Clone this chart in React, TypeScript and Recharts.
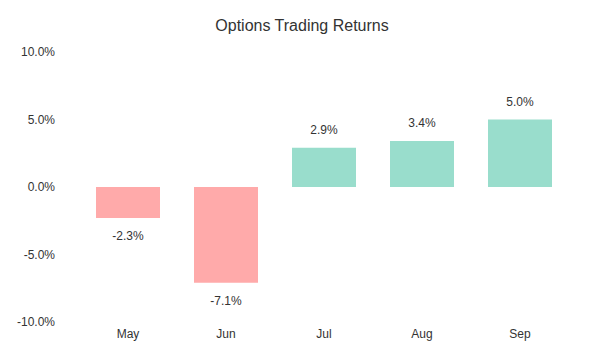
import React from 'react';
import { BarChart, Bar, XAxis, YAxis, Cell, LabelList } from 'recharts';

const months = ['May', 'Jun', 'Jul', 'Aug', 'Sep'];
const returns = [-2.3, -7.1, 2.9, 3.4, 5.0];
const yTicks = [-10, -5, 0, 5, 10];

const data = months.map((m, i) => ({ month: m, value: returns[i] }));

const FONT = '"Liberation Sans", Arial, Helvetica, sans-serif';

const renderLabel = (props: any) => {
  const { x, y, width, height, value } = props;
  const top = Math.min(y, y + height);
  const bottom = Math.max(y, y + height);
  const cx = x + width / 2;
  const cy = value >= 0 ? top - 18 : bottom + 18;
  return (
    <text x={cx} y={cy} textAnchor="middle" dominantBaseline="central" fill="#333" fontSize={12} fontFamily={FONT}>
      {`${Number(value).toFixed(1)}%`}
    </text>
  );
};

export default function App() {
  return (
    <div style={{ position: 'absolute', left: 0, top: 0, width: 604, height: 358, background: '#fff' }}>
      <div style={{ position: 'absolute', left: 0, top: 17, width: 604, textAlign: 'center', fontFamily: FONT, fontSize: 16, color: '#333' }}>
        Options Trading Returns
      </div>
      <BarChart width={604} height={358} data={data} margin={{ top: 52, right: 35, bottom: 6, left: 0 }}>
        <XAxis
          dataKey="month"
          axisLine={false}
          tickLine={false}
          tickSize={0}
          tickMargin={7}
          height={30}
          tick={{ fill: '#333', fontSize: 12, fontFamily: FONT }}
        />
        <YAxis
          domain={[-10, 10]}
          ticks={yTicks}
          axisLine={false}
          tickLine={false}
          tickSize={6}
          tickMargin={18}
          width={79}
          tickFormatter={(v: number) => `${v.toFixed(1)}%`}
          tick={{ fill: '#333', fontSize: 12, fontFamily: FONT }}
        />
        <Bar dataKey="value" barSize={64} isAnimationActive={false}>
          {data.map((d, i) => (
            <Cell key={i} fill={d.value < 0 ? '#FFAAAA' : '#99DDCC'} />
          ))}
          <LabelList dataKey="value" content={renderLabel} />
        </Bar>
      </BarChart>
    </div>
  );
}
